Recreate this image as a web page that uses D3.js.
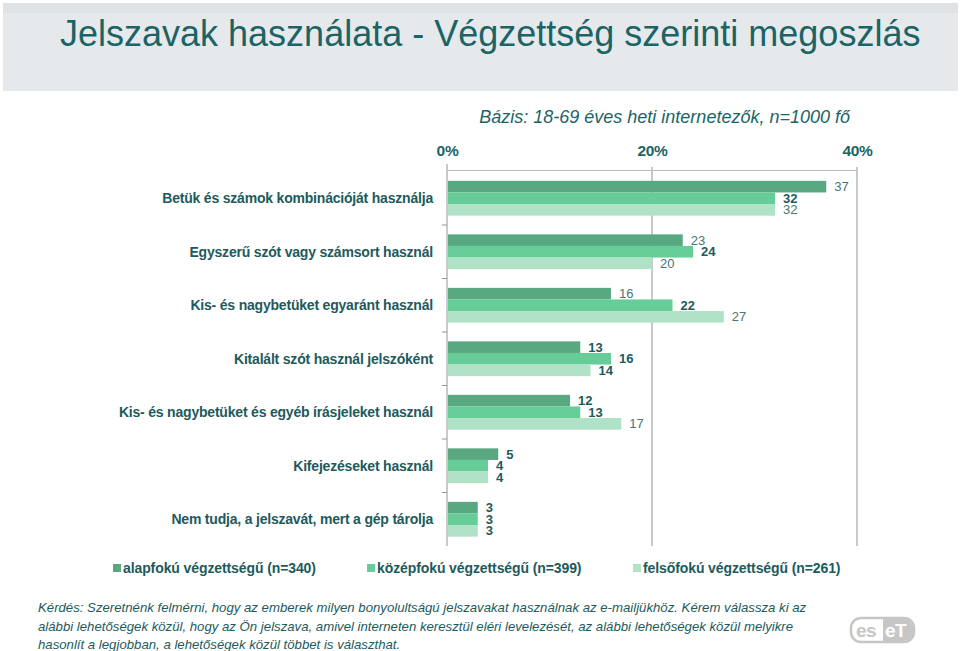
<!DOCTYPE html>
<html>
<head>
<meta charset="utf-8">
<script src="https://cdn.jsdelivr.net/npm/d3@7/dist/d3.min.js"></script>
<style>
  html, body { margin: 0; padding: 0; background: #ffffff; }
  svg { display: block; font-family: "Liberation Sans", Arial, sans-serif; }
</style>
</head>
<body>
<svg id="chart" width="960" height="651"></svg>
<script>
// ---------------- DATA ----------------
const title = "Jelszavak használata - Végzettség szerinti megoszlás";
const subtitle = "Bázis: 18-69 éves heti internetezők, n=1000 fő";
const categories = [
  "Betük és számok kombinációját használja",
  "Egyszerű szót vagy számsort használ",
  "Kis- és nagybetüket egyaránt használ",
  "Kitalált szót használ jelszóként",
  "Kis- és nagybetüket és egyéb írásjeleket használ",
  "Kifejezéseket használ",
  "Nem tudja, a jelszavát, mert a gép tárolja"
];
const seriesNames = [
  "alapfokú végzettségű (n=340)",
  "középfokú végzettségű (n=399)",
  "felsőfokú végzettségű (n=261)"
];
const alapfoku   = [37, 23, 16, 13, 12, 5, 3];
const kozepfoku  = [32, 24, 22, 16, 13, 4, 3];
const felsofoku  = [32, 20, 27, 14, 17, 4, 3];
const tickValues = [0, 20, 40];
const tickLabels = ["0%", "20%", "40%"];
const footerLines = [
  "Kérdés: Szeretnénk felmérni, hogy az emberek milyen bonyolultságú jelszavakat használnak az e-mailjükhöz. Kérem válassza ki az",
  "alábbi lehetőségek közül, hogy az Ön jelszava, amivel interneten keresztül eléri levelezését, az alábbi lehetőségek közül melyikre",
  "hasonlít a legjobban, a lehetőségek közül többet is választhat."
];

// ---------------- STYLE ----------------
const seriesValues = [alapfoku, kozepfoku, felsofoku];
const colors = ["#58a881", "#66cd98", "#b0e2c7"];
const teal = "#1b6466";
const darkTeal = "#1d5a5c";
const lightLabel = "#4d7375";
// which value labels are drawn bold (per category, per series)
const boldLabels = [
  [false, true, false],
  [false, true, false],
  [false, true, false],
  [true, true, true],
  [true, true, false],
  [true, true, true],
  [true, true, true]
];

const svg = d3.select("#chart");

// header band
svg.append("rect").attr("x", 3).attr("y", 3).attr("width", 955).attr("height", 88).attr("fill", "#e6e9ec");
svg.append("rect").attr("x", 3).attr("y", 3).attr("width", 955).attr("height", 10).attr("fill", "#dee2e5");

svg.append("text").attr("x", 60).attr("y", 46)
  .attr("font-size", 36).attr("fill", teal).text(title);

svg.append("text").attr("x", 850).attr("y", 123).attr("text-anchor", "end")
  .attr("font-size", 18).attr("font-style", "italic").attr("fill", teal).text(subtitle);

// ---------------- SCALES ----------------
const x = d3.scaleLinear().domain([0, 40]).range([447, 857]);
const y = d3.scaleBand().domain(categories).range([171.5, 546]).paddingInner(0.35).paddingOuter(0.175);
const ySub = d3.scaleBand().domain([0, 1, 2]).range([0, y.bandwidth()]);

// gridlines
svg.append("g").selectAll("line").data(tickValues.slice(1)).join("line")
  .attr("x1", d => x(d)).attr("x2", d => x(d))
  .attr("y1", 167).attr("y2", 546)
  .attr("stroke", "#8f9596").attr("stroke-width", 1);

// top axis
const xAxis = d3.axisTop(x).tickValues(tickValues).tickFormat((d, i) => tickLabels[i]).tickSize(0).tickPadding(0);
const gx = svg.append("g").attr("transform", "translate(0,170)").call(xAxis);
gx.select(".domain").attr("stroke", "#b8bcbd").attr("stroke-width", 1);
gx.selectAll("text").attr("y", -14).attr("font-size", 15.5).attr("font-weight", "bold")
  .attr("fill", teal).attr("font-family", "'Liberation Sans', Arial, sans-serif").attr("letter-spacing", "-0.3");

// left axis line and ticks
const step = y.step();
const boundaries = d3.range(1, categories.length).map(i => y.range()[0] + i * step);
svg.append("line").attr("x1", 447).attr("x2", 447).attr("y1", 164).attr("y2", 546)
  .attr("stroke", "#8f9596");
svg.append("g").selectAll("line").data(boundaries).join("line")
  .attr("x1", 442).attr("x2", 447).attr("y1", d => d).attr("y2", d => d)
  .attr("stroke", "#8f9596");

// bars
const groups = svg.append("g").selectAll("g").data(categories).join("g")
  .attr("transform", d => `translate(0,${y(d)})`);

groups.selectAll("rect").data((c, ci) => seriesValues.map((s, si) => ({ v: s[ci], si, ci })))
  .join("rect")
  .attr("x", x(0) + 1)
  .attr("y", d => ySub(d.si))
  .attr("width", d => x(d.v) - x(0) - 1)
  .attr("height", ySub.bandwidth())
  .attr("fill", d => colors[d.si]);

groups.selectAll("text.val").data((c, ci) => seriesValues.map((s, si) => ({ v: s[ci], si, ci })))
  .join("text").attr("class", "val")
  .attr("x", d => x(d.v) + 8)
  .attr("y", d => ySub(d.si) + ySub.bandwidth() / 2 + 4.5)
  .attr("font-size", 13)
  .attr("font-weight", d => boldLabels[d.ci][d.si] ? "bold" : "normal")
  .attr("fill", d => boldLabels[d.ci][d.si] ? darkTeal : lightLabel)
  .text(d => d.v);

// category labels
svg.append("g").selectAll("text").data(categories).join("text")
  .attr("x", 433).attr("y", d => y(d) + y.bandwidth() / 2 + 5)
  .attr("text-anchor", "end").attr("font-size", 14).attr("font-weight", "bold")
  .attr("letter-spacing", "-0.2").attr("fill", darkTeal).text(d => d);

// legend
const legendX = [113, 367, 633];
const lg = svg.append("g").selectAll("g").data(seriesNames).join("g")
  .attr("transform", (d, i) => `translate(${legendX[i]},568)`);
lg.append("rect").attr("x", 0).attr("y", -4).attr("width", 8).attr("height", 8).attr("fill", (d, i) => colors[i]);
lg.append("text").attr("x", 10).attr("y", 5).attr("font-size", 14).attr("font-weight", "bold")
  .attr("letter-spacing", "-0.1").attr("fill", darkTeal).text(d => d);

// footer
svg.append("g").selectAll("text").data(footerLines).join("text")
  .attr("x", 38).attr("y", (d, i) => 612 + i * 18.5)
  .attr("font-size", 13.2).attr("font-style", "italic").attr("fill", darkTeal)
  .text(d => d);

// ESET logo
const logo = svg.append("g").attr("transform", "translate(851,618)");
logo.append("rect").attr("x", 0).attr("y", 0).attr("width", 63).attr("height", 24).attr("rx", 10)
  .attr("fill", "#ffffff").attr("stroke", "#c6c6c6").attr("stroke-width", 2.5);
logo.append("path").attr("d", "M32,1 H53 A9,9 0 0 1 62,10 V14 A9,9 0 0 1 53,23 H32 Z").attr("fill", "#c6c6c6");
logo.append("text").attr("x", 5).attr("y", 19).attr("font-size", 19).attr("font-weight", "bold")
  .attr("fill", "#c6c6c6").attr("letter-spacing", "-0.5").text("es");
logo.append("text").attr("x", 34).attr("y", 19).attr("font-size", 19).attr("font-weight", "bold")
  .attr("fill", "#ffffff").attr("letter-spacing", "-0.5").text("eT");
</script>
</body>
</html>
